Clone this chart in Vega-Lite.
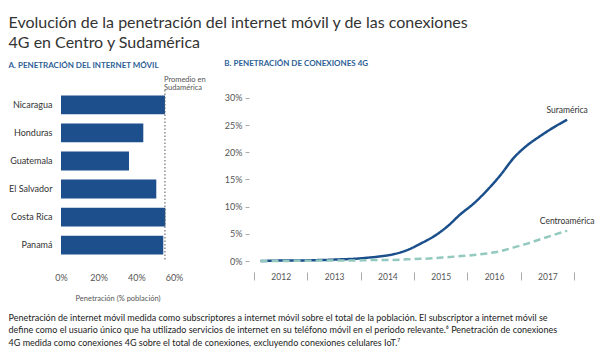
{
  "$schema": "https://vega.github.io/schema/vega-lite/v6.json",
  "background": "white",
  "padding": {"left": 8, "top": 15, "right": 4, "bottom": 4},
  "config": {
    "view": {"stroke": null},
    "font": "Lato",
    "axis": {"labelFont": "Lato", "titleFont": "Lato"}
  },
  "title": {
    "text": ["Evolución de la penetración del internet móvil y de las conexiones", "4G en Centro y Sudamérica"],
    "anchor": "start",
    "fontSize": 16,
    "fontWeight": "normal",
    "color": "#333333",
    "lineHeight": 20,
    "offset": 9
  },
  "vconcat": [
    {
      "title": {
        "text": [
          "Penetración de internet móvil medida como subscriptores a internet móvil sobre el total de la población. El subscriptor a internet móvil se",
          "define como el usuario único que ha utilizado servicios de internet en su teléfono móvil en el periodo relevante.⁶ Penetración de conexiones",
          "4G medida como conexiones 4G sobre el total de conexiones, excluyendo conexiones celulares IoT.⁷"
        ],
        "orient": "bottom",
        "anchor": "start",
        "fontSize": 9,
        "fontWeight": "normal",
        "color": "#222222",
        "lineHeight": 12.5,
        "offset": 12
      },
      "spacing": 80,
      "bounds": "flush",
      "hconcat": [
        {
          "title": {
            "text": "A. PENETRACIÓN DEL INTERNET MÓVIL",
            "anchor": "start",
            "frame": "bounds",
            "fontSize": 8,
            "fontWeight": "bold",
            "color": "#2d5f96",
            "offset": 6
          },
          "width": 113,
          "height": 170,
          "layer": [
            {
              "data": {"values": [
                {"pais": "Nicaragua", "penetracion": 55.2},
                {"pais": "Honduras", "penetracion": 43.7},
                {"pais": "Guatemala", "penetracion": 36.1},
                {"pais": "El Salvador", "penetracion": 50.6},
                {"pais": "Costa Rica", "penetracion": 55.4},
                {"pais": "Panamá", "penetracion": 54.3}
              ]},
              "mark": {"type": "bar", "color": "#1d4f8c"},
              "encoding": {
                "y": {
                  "field": "pais", "type": "nominal", "sort": null,
                  "scale": {"domain": ["Nicaragua", "Honduras", "Guatemala", "El Salvador", "Costa Rica", "Panamá"], "paddingInner": 0.33, "paddingOuter": 0.2},
                  "axis": {"title": null, "ticks": false, "domain": false, "labelPadding": 9, "labelFontSize": 9, "labelColor": "#333333"}
                },
                "x": {
                  "field": "penetracion", "type": "quantitative",
                  "scale": {"domain": [0, 60]},
                  "axis": {
                    "values": [0, 20, 40, 60],
                    "tickCount": 20,
                    "labelExpr": "datum.value + '%'",
                    "labelOverlap": false, "labelFlush": false,
                    "title": "Penetración (% población)",
                    "grid": false, "domain": false, "ticks": false,
                    "labelPadding": 13, "titlePadding": 12,
                    "titleFontSize": 7.5, "titleFontWeight": "normal", "titleColor": "#555555",
                    "labelFontSize": 9, "labelColor": "#555555"
                  }
                }
              }
            },
            {
              "data": {"values": [{"promedio": 55.2, "pais": "Nicaragua", "etiqueta": "Promedio en\nSudamérica"}]},
              "layer": [
                {
                  "mark": {"type": "rule", "color": "#555555", "strokeDash": [1.5, 2], "strokeWidth": 1},
                  "encoding": {"x": {"field": "promedio", "type": "quantitative"}}
                },
                {
                  "mark": {"type": "text", "align": "left", "baseline": "bottom", "dy": -21, "dx": -1, "fontSize": 7.5, "lineHeight": 8, "color": "#555555", "lineBreak": "\n"},
                  "encoding": {
                    "x": {"field": "promedio", "type": "quantitative"},
                    "y": {"field": "pais", "type": "nominal", "sort": null},
                    "text": {"field": "etiqueta"}
                  }
                }
              ]
            }
          ]
        },
        {
          "title": {
            "text": "B. PENETRACIÓN DE CONEXIONES 4G",
            "anchor": "start",
            "frame": "bounds",
            "fontSize": 8,
            "fontWeight": "bold",
            "color": "#2d5f96",
            "offset": 22
          },
          "width": 320,
          "height": 171,
          "data": {"values": [
            {"fecha": "2012-02-15", "serie": "Suramérica", "valor": 0.0},
            {"fecha": "2012-05-15", "serie": "Suramérica", "valor": 0.05},
            {"fecha": "2012-08-15", "serie": "Suramérica", "valor": 0.1},
            {"fecha": "2012-11-15", "serie": "Suramérica", "valor": 0.1},
            {"fecha": "2013-02-15", "serie": "Suramérica", "valor": 0.15},
            {"fecha": "2013-05-15", "serie": "Suramérica", "valor": 0.2},
            {"fecha": "2013-08-15", "serie": "Suramérica", "valor": 0.3},
            {"fecha": "2013-11-15", "serie": "Suramérica", "valor": 0.4},
            {"fecha": "2014-02-15", "serie": "Suramérica", "valor": 0.6},
            {"fecha": "2014-05-15", "serie": "Suramérica", "valor": 0.85},
            {"fecha": "2014-08-15", "serie": "Suramérica", "valor": 1.25},
            {"fecha": "2014-11-15", "serie": "Suramérica", "valor": 2.0},
            {"fecha": "2015-02-15", "serie": "Suramérica", "valor": 3.2},
            {"fecha": "2015-05-15", "serie": "Suramérica", "valor": 4.5},
            {"fecha": "2015-08-15", "serie": "Suramérica", "valor": 6.3},
            {"fecha": "2015-11-15", "serie": "Suramérica", "valor": 8.6},
            {"fecha": "2016-02-15", "serie": "Suramérica", "valor": 10.6},
            {"fecha": "2016-05-15", "serie": "Suramérica", "valor": 13.0},
            {"fecha": "2016-08-15", "serie": "Suramérica", "valor": 15.8},
            {"fecha": "2016-11-15", "serie": "Suramérica", "valor": 19.0},
            {"fecha": "2017-02-15", "serie": "Suramérica", "valor": 21.3},
            {"fecha": "2017-05-15", "serie": "Suramérica", "valor": 23.0},
            {"fecha": "2017-08-15", "serie": "Suramérica", "valor": 24.6},
            {"fecha": "2017-11-15", "serie": "Suramérica", "valor": 26.0, "etiqueta": "Suramérica"},
            {"fecha": "2012-02-15", "serie": "Centroamérica", "valor": 0.0},
            {"fecha": "2012-05-15", "serie": "Centroamérica", "valor": 0.0},
            {"fecha": "2012-08-15", "serie": "Centroamérica", "valor": 0.0},
            {"fecha": "2012-11-15", "serie": "Centroamérica", "valor": 0.05},
            {"fecha": "2013-02-15", "serie": "Centroamérica", "valor": 0.05},
            {"fecha": "2013-05-15", "serie": "Centroamérica", "valor": 0.1},
            {"fecha": "2013-08-15", "serie": "Centroamérica", "valor": 0.1},
            {"fecha": "2013-11-15", "serie": "Centroamérica", "valor": 0.1},
            {"fecha": "2014-02-15", "serie": "Centroamérica", "valor": 0.15},
            {"fecha": "2014-05-15", "serie": "Centroamérica", "valor": 0.2},
            {"fecha": "2014-08-15", "serie": "Centroamérica", "valor": 0.2},
            {"fecha": "2014-11-15", "serie": "Centroamérica", "valor": 0.3},
            {"fecha": "2015-02-15", "serie": "Centroamérica", "valor": 0.4},
            {"fecha": "2015-05-15", "serie": "Centroamérica", "valor": 0.5},
            {"fecha": "2015-08-15", "serie": "Centroamérica", "valor": 0.7},
            {"fecha": "2015-11-15", "serie": "Centroamérica", "valor": 0.9},
            {"fecha": "2016-02-15", "serie": "Centroamérica", "valor": 1.1},
            {"fecha": "2016-05-15", "serie": "Centroamérica", "valor": 1.4},
            {"fecha": "2016-08-15", "serie": "Centroamérica", "valor": 1.8},
            {"fecha": "2016-11-15", "serie": "Centroamérica", "valor": 2.5},
            {"fecha": "2017-02-15", "serie": "Centroamérica", "valor": 3.2},
            {"fecha": "2017-05-15", "serie": "Centroamérica", "valor": 4.0},
            {"fecha": "2017-08-15", "serie": "Centroamérica", "valor": 4.8},
            {"fecha": "2017-11-15", "serie": "Centroamérica", "valor": 5.6, "etiqueta": "Centroamérica"}
          ]},
          "layer": [
            {
              "mark": {"type": "line", "strokeWidth": 2.5, "interpolate": "monotone"},
              "encoding": {
                "x": {
                  "field": "fecha", "type": "temporal",
                  "scale": {"type": "utc", "domain": [{"year": 2012, "month": 1, "date": 1, "utc": true}, {"year": 2018, "month": 1, "date": 1, "utc": true}]},
                  "axis": {
                    "title": null, "grid": false, "domain": false,
                    "values": [
                      {"year": 2012, "month": 1, "date": 1, "utc": true},
                      {"year": 2013, "month": 1, "date": 1, "utc": true},
                      {"year": 2014, "month": 1, "date": 1, "utc": true},
                      {"year": 2015, "month": 1, "date": 1, "utc": true},
                      {"year": 2016, "month": 1, "date": 1, "utc": true},
                      {"year": 2017, "month": 1, "date": 1, "utc": true},
                      {"year": 2018, "month": 1, "date": 1, "utc": true}
                    ],
                    "tickCount": 20,
                    "labelExpr": "utcFormat(datum.value, '%Y') == '2018' ? '' : utcFormat(datum.value, '%Y')",
                    "labelOffset": 26.7, "labelAlign": "center", "labelBaseline": "middle",
                    "offset": 11, "tickSize": 8, "tickColor": "#aaaaaa", "labelPadding": -4,
                    "labelFontSize": 8.5, "labelColor": "#555555", "labelFlush": false, "labelOverlap": false
                  }
                },
                "y": {
                  "field": "valor", "type": "quantitative",
                  "scale": {"domain": [0, 31.47], "nice": false},
                  "axis": {
                    "title": null, "grid": false, "domain": false,
                    "values": [0, 5, 10, 15, 20, 25, 30],
                    "tickCount": 20,
                    "labelExpr": "datum.value + '%'",
                    "labelOverlap": false,
                    "offset": 5, "tickSize": 4, "tickColor": "#aaaaaa", "labelPadding": 3,
                    "labelFontSize": 9, "labelColor": "#555555"
                  }
                },
                "color": {
                  "field": "serie", "type": "nominal",
                  "scale": {"domain": ["Suramérica", "Centroamérica"], "range": ["#1a4f8b", "#93c9bf"]},
                  "legend": null
                },
                "strokeDash": {
                  "field": "serie", "type": "nominal",
                  "scale": {"domain": ["Suramérica", "Centroamérica"], "range": [[1, 0], [7, 4]]},
                  "legend": null
                }
              }
            },
            {
              "transform": [{"filter": "isValid(datum.etiqueta)"}],
              "mark": {"type": "text", "align": "center", "baseline": "middle", "dy": -10, "fontSize": 8.5, "color": "#333333"},
              "encoding": {
                "x": {"field": "fecha", "type": "temporal"},
                "y": {"field": "valor", "type": "quantitative"},
                "text": {"field": "etiqueta"}
              }
            }
          ]
        }
      ]
    }
  ]
}
